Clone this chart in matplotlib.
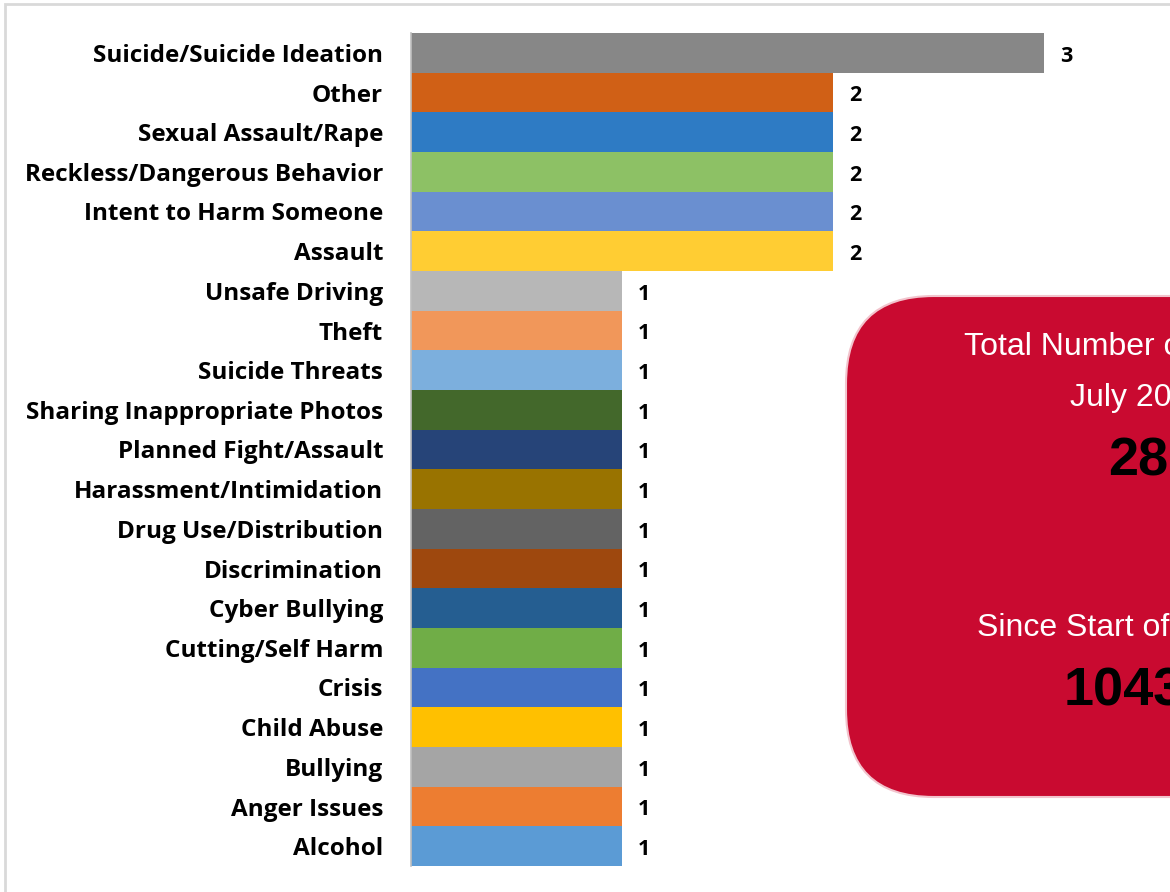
import matplotlib.pyplot as plt
from matplotlib.patches import Rectangle, FancyBboxPatch

# categories top to bottom
categories = ["Suicide/Suicide Ideation", "Other", "Sexual Assault/Rape",
              "Reckless/Dangerous Behavior", "Intent to Harm Someone", "Assault",
              "Unsafe Driving", "Theft", "Suicide Threats",
              "Sharing Inappropriate Photos", "Planned Fight/Assault",
              "Harassment/Intimidation", "Drug Use/Distribution", "Discrimination",
              "Cyber Bullying", "Cutting/Self Harm", "Crisis", "Child Abuse",
              "Bullying", "Anger Issues", "Alcohol"]
counts = [3, 2, 2, 2, 2, 2, 1, 1, 1, 1, 1, 1, 1, 1, 1, 1, 1, 1, 1, 1, 1]
colors = ["#878787", "#D06016", "#2E7BC4", "#8DC165", "#6A8FD0", "#FFCD33",
          "#B7B7B7", "#F1975A", "#7CAFDD", "#43682B", "#264478", "#997300",
          "#636363", "#9E480E", "#255E91", "#70AD47", "#4472C4", "#FFC000",
          "#A5A5A5", "#ED7D31", "#5B9BD5"]

box_lines = ["Total Number of Calls", "July 2019", "28", "Since Start of School Year", "1043"]

W, H = 1170, 892
fig = plt.figure(figsize=(W / 100, H / 100), dpi=100)
font = "Open Sans"

# outer frame (only top and left edges fall inside the picture)
fig.patches.append(Rectangle((5 / W, -0.1), 1.2, (H - 4) / H + 0.1, transform=fig.transFigure,
                             fill=False, edgecolor="#D9D9D9", linewidth=2))

ax = fig.add_axes([411 / W, 1 - 866 / H, 3.5 * 211 / W, (866 - 33) / H])
y = list(range(len(categories)))
ax.barh(y, counts, height=1.0, color=colors)
ax.set_ylim(len(categories) - 0.5, -0.5)
ax.set_xlim(0, 3.5)
ax.set_yticks(y)
ax.set_yticklabels(categories, fontsize=17.5, fontweight="bold", family=font)
ax.tick_params(axis="y", length=0, pad=20)
ax.set_xticks([])
for s in ["top", "right", "bottom"]:
    ax.spines[s].set_visible(False)
ax.spines["left"].set_color("#BFBFBF")
ax.spines["left"].set_linewidth(1.2)
ax.patch.set_alpha(0)

for yi, v in zip(y, counts):
    ax.text(v + 0.075, yi + 0.08, str(v), va="center", ha="left",
            fontsize=15.5, fontweight="bold", family=font)

# red summary box
box = FancyBboxPatch((846 / W, 1 - 797 / H), 500 / W, (797 - 296) / H,
                     boxstyle="round,pad=0,rounding_size=0.075",
                     transform=fig.transFigure, facecolor="#C90A30",
                     edgecolor="#F2C4CD", linewidth=1.5, mutation_aspect=W / H)
fig.patches.append(box)

fig.text(964 / W, 1 - 347 / H, box_lines[0], color="white", fontsize=23,
         family="Liberation Sans", va="center", ha="left")
fig.text(1070 / W, 1 - 398 / H, box_lines[1], color="white", fontsize=23,
         family="Liberation Sans", va="center", ha="left")
fig.text(1108 / W, 1 - 461 / H, box_lines[2], color="black", fontsize=39,
         fontweight="bold", family="Liberation Sans", va="center", ha="left")
fig.text(977 / W, 1 - 628 / H, box_lines[3], color="white", fontsize=23,
         family="Liberation Sans", va="center", ha="left")
fig.text(1064 / W, 1 - 691 / H, box_lines[4], color="black", fontsize=39,
         fontweight="bold", family="Liberation Sans", va="center", ha="left")

fig.savefig("out.png", dpi=100)
